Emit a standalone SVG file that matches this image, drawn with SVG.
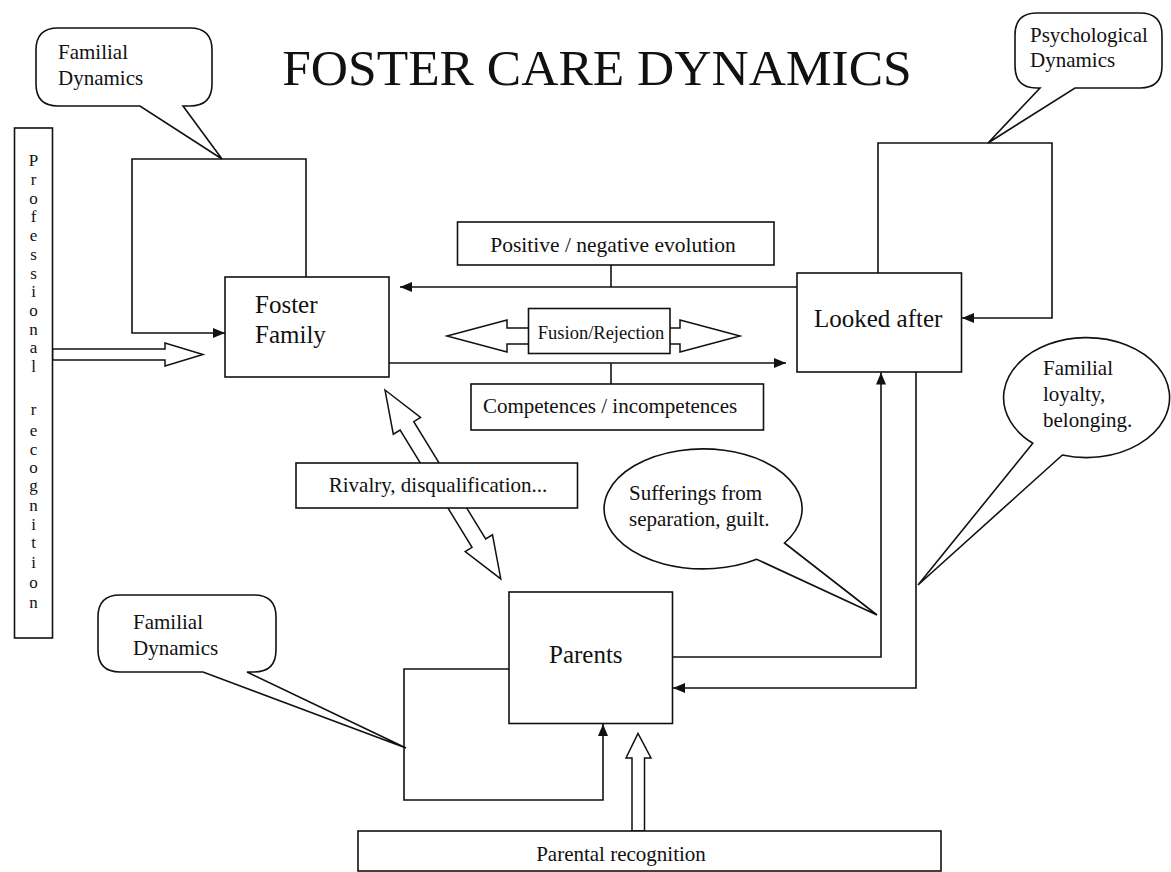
<svg xmlns="http://www.w3.org/2000/svg" width="1171" height="872" viewBox="0 0 1171 872">
<style>
.ln{fill:none;stroke:#111;stroke-width:1.6}
.bx{fill:#fff;stroke:#111;stroke-width:1.6}
.ha{fill:#fff;stroke:#111;stroke-width:1.5;stroke-linejoin:miter}
text{font-family:"Liberation Serif","Times New Roman",serif;fill:#111}
.t21{font-size:21px}
.t25{font-size:25px}
.mid{text-anchor:middle}
</style>
<defs>
<marker id="ah" markerUnits="userSpaceOnUse" markerWidth="13" markerHeight="10" refX="12" refY="5" orient="auto">
<path d="M0,0 L12,5 L0,10 Z" fill="#111"/>
</marker>
</defs>
<rect width="1171" height="872" fill="#fff"/>
<text id="title" x="597" y="85" class="mid" font-size="51.5">FOSTER CARE DYNAMICS</text>

<g id="connectors">
<path class="ln" d="M306 277 V159 H132 V333 H225" marker-end="url(#ah)"/>
<path class="ln" d="M878 273 V143 H1052 V318 H962" marker-end="url(#ah)"/>
<path class="ln" d="M797 287 H400" marker-end="url(#ah)"/>
<path class="ln" d="M611 265 V287"/>
<path class="ln" d="M389 363 H786" marker-end="url(#ah)"/>
<path class="ln" d="M611 363 V384"/>
<path class="ln" d="M672.5 657 H881 V372.5" marker-end="url(#ah)"/>
<path class="ln" d="M916 372 V688 H673" marker-end="url(#ah)"/>
<path class="ln" d="M509 669 H404 V800 H603 V724" marker-end="url(#ah)"/>
<polygon class="ha" points="52.5,349 165,349 165,343 203,354.5 165,366 165,360 52.5,360"/>
<polygon class="ha" points="447,336 507,320 507,328 680,328 680,320 740,336 680,352 680,344 507,344 507,352"/>
<polygon class="ha" points="632,831 632,758 626,758 638,733.5 651,758 644.5,758 644.5,831"/>
<polygon class="ha" transform="translate(385,390) rotate(58.5)" points="0,0 42,-16 42,-8 179.6,-8 179.6,-16 221.6,0 179.6,16 179.6,8 42,8 42,16"/>
</g>

<g id="callout-familial-top">
<path class="bx" d="M58 28 H190 Q212 28 212 50 V84 Q212 106 190 106 H183 L222 159 L140 106 H58 Q36 106 36 84 V50 Q36 28 58 28 Z"/>
<text class="t21" x="58" y="59">Familial</text>
<text class="t21" x="58" y="85">Dynamics</text>
</g>

<g id="callout-psychological">
<path class="bx" d="M1037 13 H1140 Q1162 13 1162 35 V66 Q1162 88 1140 88 H1075 L988 143 L1040 88 H1037 Q1015 88 1015 66 V35 Q1015 13 1037 13 Z"/>
<text class="t21" x="1030" y="42">Psychological</text>
<text class="t21" x="1030" y="67">Dynamics</text>
</g>

<g id="callout-familial-bottom">
<path class="bx" d="M120 595 H254 Q276 595 276 617 V650 Q276 672 254 672 H247 L406 748 L203 672 H120 Q98 672 98 650 V617 Q98 595 120 595 Z"/>
<text class="t21" x="133" y="629">Familial</text>
<text class="t21" x="133" y="655">Dynamics</text>
</g>

<g id="callout-sufferings">
<path class="bx" d="M784.5 543 L877 615 L756.7 559.3 A99 60 0 1 1 784.5 543 Z"/>
<text class="t21" x="629" y="500">Sufferings from</text>
<text class="t21" x="629" y="526">separation, guilt.</text>
</g>

<g id="callout-loyalty">
<path class="bx" d="M1062.4 455 L918 585 L1032.8 443.3 A83 60 0 1 1 1062.4 455 Z"/>
<text class="t21" x="1043" y="375">Familial</text>
<text class="t21" x="1043" y="401">loyalty,</text>
<text class="t21" x="1043" y="427">belonging.</text>
</g>

<g id="professional-recognition">
<rect class="bx" x="14.5" y="128" width="38" height="510"/>
<text font-size="17" class="mid"><tspan x="33.5" y="166">P</tspan><tspan x="33.5" y="185">r</tspan><tspan x="33.5" y="203.5">o</tspan><tspan x="33.5" y="222">f</tspan><tspan x="33.5" y="241">e</tspan><tspan x="33.5" y="260">s</tspan><tspan x="33.5" y="278.5">s</tspan><tspan x="33.5" y="297">i</tspan><tspan x="33.5" y="316">o</tspan><tspan x="33.5" y="334.5">n</tspan><tspan x="33.5" y="353">a</tspan><tspan x="33.5" y="372">l</tspan><tspan x="33.5" y="415">r</tspan><tspan x="33.5" y="436">e</tspan><tspan x="33.5" y="455">c</tspan><tspan x="33.5" y="473">o</tspan><tspan x="33.5" y="491">g</tspan><tspan x="33.5" y="511">n</tspan><tspan x="33.5" y="530">i</tspan><tspan x="33.5" y="548">t</tspan><tspan x="33.5" y="568">i</tspan><tspan x="33.5" y="588">o</tspan><tspan x="33.5" y="608">n</tspan></text>
</g>

<g id="foster-family">
<rect class="bx" x="225" y="277" width="164" height="100"/>
<text class="t25" x="255" y="313">Foster</text>
<text class="t25" x="255" y="343">Family</text>
</g>

<g id="looked-after">
<rect class="bx" x="797" y="273" width="164.5" height="99"/>
<text class="t25" x="814" y="327">Looked after</text>
</g>

<g id="parents">
<rect class="bx" x="509" y="592" width="163.5" height="131.5"/>
<text class="t25" x="549" y="663">Parents</text>
</g>

<g id="positive-negative">
<rect class="bx" x="457.5" y="222" width="316.5" height="43"/>
<text class="mid" font-size="21.5" x="613" y="252">Positive / negative evolution</text>
</g>

<g id="fusion-rejection">
<rect class="bx" x="528.5" y="308.5" width="141.5" height="45"/>
<text class="mid" font-size="18.5" x="601" y="339">Fusion/Rejection</text>
</g>

<g id="competences">
<rect class="bx" x="471" y="384" width="292.5" height="46"/>
<text class="t21 mid" x="610" y="413">Competences / incompetences</text>
</g>

<g id="rivalry">
<rect class="bx" x="296" y="463" width="281.5" height="45"/>
<text class="t21 mid" x="438" y="492">Rivalry, disqualification...</text>
</g>

<g id="parental-recognition">
<rect class="bx" x="358" y="831" width="583" height="40"/>
<text class="t21 mid" x="621" y="861">Parental recognition</text>
</g>
</svg>
